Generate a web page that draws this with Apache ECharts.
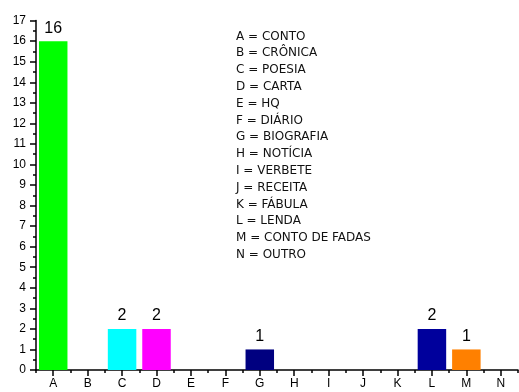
<!DOCTYPE html>
<html>
<head>
<meta charset="utf-8">
<script src="https://cdn.jsdelivr.net/npm/echarts@6/dist/echarts.min.js"></script>
<style>
  html, body { margin: 0; padding: 0; background: #fff; }
  #chart { width: 519px; height: 392px; }
</style>
</head>
<body>
<div id="chart"></div>
<script>
  // categorias e contagens
  var categories = ['A', 'B', 'C', 'D', 'E', 'F', 'G', 'H', 'I', 'J', 'K', 'L', 'M', 'N'];
  var counts = [16, 0, 2, 2, 0, 0, 1, 0, 0, 0, 0, 2, 1, 0];
  var barColors = ['#00ff00', '#808080', '#00ffff', '#ff00ff', '#808080', '#808080', '#000080',
    '#808080', '#808080', '#808080', '#808080', '#00009c', '#ff8000', '#808080'];
  var legendLines = [
    'A = CONTO', 'B = CRÔNICA', 'C = POESIA', 'D = CARTA', 'E = HQ', 'F = DIÁRIO',
    'G = BIOGRAFIA', 'H = NOTÍCIA', 'I = VERBETE', 'J = RECEITA', 'K = FÁBULA',
    'L = LENDA', 'M = CONTO DE FADAS', 'N = OUTRO'
  ];
  var yTicks = { min: 0, max: 17, interval: 1 };

  var font = 'Liberation Sans';
  var chart = echarts.init(document.getElementById('chart'));

  var barData = counts.map(function (v, i) {
    return {
      value: v,
      itemStyle: { color: barColors[i] },
      label: { show: v > 0 }
    };
  });

  var axisColor = '#000';

  var option = {
    animation: false,
    grid: { left: 36, right: 1, top: 20.6, bottom: 22 },
    xAxis: [{
      type: 'category',
      data: categories,
      axisLine: { show: true, lineStyle: { color: axisColor, width: 1.5 } },
      axisTick: { show: true, alignWithLabel: true, length: 6, lineStyle: { color: axisColor, width: 1.5 } },
      axisLabel: { show: true, color: '#000', fontSize: 12, fontFamily: font, margin: 8 }
    }, {
      // segundo eixo so para os tracinhos curtos entre as categorias
      type: 'category',
      data: categories,
      position: 'bottom',
      axisLine: { show: false },
      axisTick: { show: true, length: 3, lineStyle: { color: axisColor, width: 1.5 } },
      axisLabel: { show: false },
      splitLine: { show: false }
    }],
    yAxis: {
      type: 'value',
      min: yTicks.min,
      max: yTicks.max,
      interval: yTicks.interval,
      axisLine: { show: true, lineStyle: { color: axisColor, width: 1.5 } },
      axisTick: { show: true, length: 6, lineStyle: { color: axisColor, width: 1.5 } },
      minorTick: { show: true, splitNumber: 2, length: 3, lineStyle: { color: axisColor, width: 1.5 } },
      axisLabel: { color: '#000', fontSize: 12, fontFamily: font, margin: 10 },
      splitLine: { show: false }
    },
    graphic: [{
      type: 'text',
      left: 236,
      top: 28,
      style: {
        text: legendLines.join('\n'),
        font: '12px "DejaVu Sans", sans-serif',
        lineHeight: 16.8,
        fill: '#111'
      }
    }],
    series: [{
      type: 'bar',
      data: barData,
      barWidth: 28.5,
      label: {
        position: 'top',
        distance: 5,
        color: '#000',
        fontSize: 16,
        fontFamily: font
      }
    }]
  };

  chart.setOption(option);
</script>
</body>
</html>
